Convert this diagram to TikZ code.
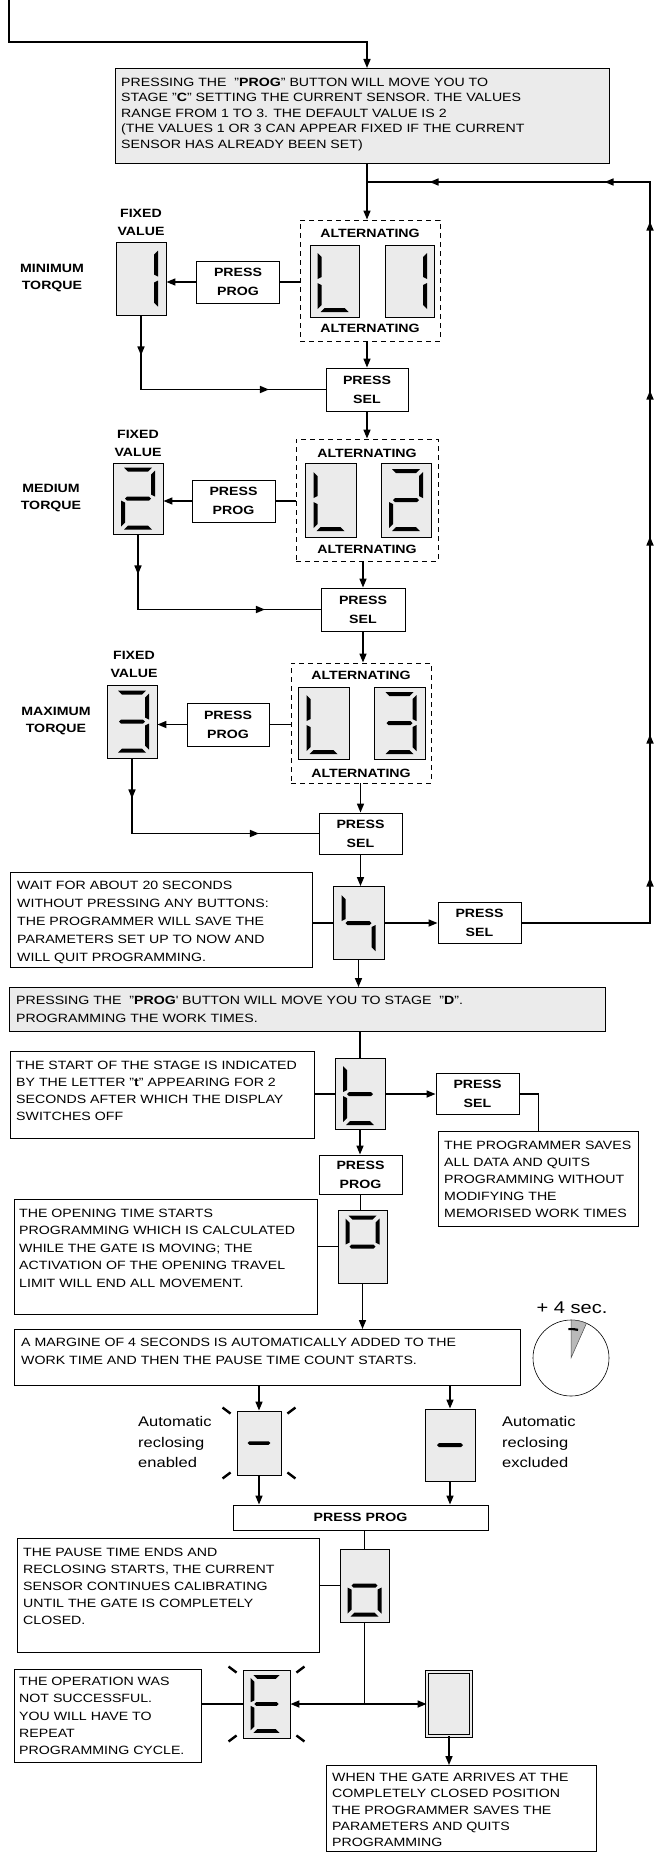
\documentclass[tikz,border=0pt]{standalone}
\usepackage{fontspec}
\setmainfont{Liberation Sans}[FakeStretch=1.18]
\usetikzlibrary{arrows.meta, decorations.markings, positioning}
\definecolor{panel}{gray}{0.92}
\tikzset{flowtip/.tip={Triangle[length=9pt, width=7pt]}}
\tikzstyle{flow} = [line width=1.6pt, -flowtip]
\tikzstyle{link} = [line width=1.6pt]
\tikzstyle{frame} = [draw, line width=0.9pt, fill=white, inner sep=0pt, anchor=north west]
\tikzstyle{greyframe} = [frame, fill=panel]
\tikzstyle{display} = [draw, line width=0.9pt, fill=panel, inner sep=0pt, minimum width=50pt, minimum height=73pt]
\tikzstyle{altbox} = [draw, line width=0.9pt, dash pattern=on 5pt off 4pt, inner sep=0pt, minimum width=140pt, minimum height=121pt]
\tikzstyle{button} = [draw, line width=0.9pt, fill=white, inner sep=0pt, align=center, minimum width=83pt, minimum height=42pt, font=\fontsize{12}{19}\selectfont\bfseries]
\tikzstyle{tag} = [align=center, inner sep=0pt, font=\fontsize{12}{18}\selectfont\bfseries]
\tikzstyle{autotext} = [anchor=west, align=left, inner sep=0pt, font=\fontsize{14}{20.5}\selectfont]
\tikzstyle{blinkmark} = [line width=2.4pt]
\tikzset{
  notetext/.style={anchor=north west, align=left, inner sep=0pt, font=\fontsize{12}{#1}\selectfont},
  notetext/.default=17,
  boxsize/.style 2 args={minimum width=#1pt, minimum height=#2pt},
  midtip/.style={postaction={decorate, decoration={markings, mark=at position #1 with {\arrow{flowtip}}}}}
}
\newcommand{\sega}{\fill (-14,-31) -- (14,-31) -- (10,-27) -- (-10,-27) -- cycle;}
\newcommand{\segb}{\fill (17,-28) -- (17,-2) -- (13,-4) -- (13,-24) -- cycle;}
\newcommand{\segc}{\fill (17,2) -- (17,28) -- (13,24) -- (13,4) -- cycle;}
\newcommand{\segd}{\fill (-14,31) -- (14,31) -- (10,27) -- (-10,27) -- cycle;}
\newcommand{\sege}{\fill (-17,2) -- (-17,28) -- (-13,24) -- (-13,4) -- cycle;}
\newcommand{\segf}{\fill (-17,-28) -- (-17,-2) -- (-13,-4) -- (-13,-24) -- cycle;}
\newcommand{\segg}{\fill (-13,0) -- (-11,-2) -- (11,-2) -- (13,0) -- (11,2) -- (-11,2) -- cycle;}
\newcommand{\segdigit}[3][1]{\begin{scope}[shift={(#2.center)}, scale=#1]\foreach \s in {#3}{\csname seg\s\endcsname}\end{scope}}
\newcommand{\blinkmarks}[1]{%
  \draw[blinkmark] ([shift={(6,3)}]#1.north east) -- ([shift={(14,-3)}]#1.north east);
  \draw[blinkmark] ([shift={(-6,3)}]#1.north west) -- ([shift={(-14,-3)}]#1.north west);
  \draw[blinkmark] ([shift={(6,-3)}]#1.south east) -- ([shift={(14,3)}]#1.south east);
  \draw[blinkmark] ([shift={(-6,-3)}]#1.south west) -- ([shift={(-14,3)}]#1.south west);}

\begin{document}
\begin{tikzpicture}[x=1pt, y=-1pt]
\fill[white] (0,0) rectangle (656,1852);
\useasboundingbox (0,0) rectangle (656,1852);

\node[greyframe, boxsize={494}{95}] (intro) at (115,68) {};
\node[notetext=15.5] (introtxt) at ([shift={(6,9.5)}]intro.north west) {PRESSING THE\ \ "\textbf{PROG}" BUTTON WILL MOVE YOU TO\\STAGE "\textbf{C}" SETTING THE CURRENT SENSOR. THE VALUES\\RANGE FROM 1 TO 3. THE DEFAULT VALUE IS 2\\(THE VALUES 1 OR 3 CAN APPEAR FIXED IF THE CURRENT\\SENSOR HAS ALREADY BEEN SET)};

\node[display] (fix1) at (141,278.5) {};
\node[tag] (fv1) at (141,222) {FIXED\\VALUE};
\node[tag, font=\fontsize{12}{17}\selectfont\bfseries] (mt1) at (52,278.5) {MINIMUM\\TORQUE};
\node[button] (pp1) at (238,282) {PRESS\\PROG};
\node[altbox] (alt1) at (370,280.5) {};
\node[tag] (at1) at (370,233) {ALTERNATING};
\node[tag] (ab1) at (370,328) {ALTERNATING};
\node[display, boxsize={49}{72}] (dl1) at (334.5,281) {};
\node[display, boxsize={49}{72}] (dr1) at (410,281) {};
\node[button, boxsize={82}{43}] (ps1) at (367,389.5) {PRESS\\SEL};

\node[display, boxsize={50}{71}] (fix2) at (138,498.5) {};
\node[tag] (fv2) at (138,443) {FIXED\\VALUE};
\node[tag, font=\fontsize{12}{17}\selectfont\bfseries] (mt2) at (51,498) {MEDIUM\\TORQUE};
\node[button] (pp2) at (233.5,501) {PRESS\\PROG};
\node[altbox, boxsize={142}{122}] (alt2) at (367,500) {};
\node[tag] (at2) at (367,453) {ALTERNATING};
\node[tag] (ab2) at (367,549) {ALTERNATING};
\node[display, boxsize={51}{74}] (dl2) at (330.5,500) {};
\node[display, boxsize={50}{74}] (dr2) at (406,500) {};
\node[button, boxsize={84}{43}] (ps2) at (363,609.5) {PRESS\\SEL};

\node[display] (fix3) at (132,721.5) {};
\node[tag] (fv3) at (134,664.5) {FIXED\\VALUE};
\node[tag, font=\fontsize{12}{17}\selectfont\bfseries] (mt3) at (56,721.5) {MAXIMUM\\TORQUE};
\node[button, boxsize={82}{43}] (pp3) at (228,724.5) {PRESS\\PROG};
\node[altbox, boxsize={140}{120}] (alt3) at (361,723) {};
\node[tag] (at3) at (361,675) {ALTERNATING};
\node[tag] (ab3) at (361,773) {ALTERNATING};
\node[display, boxsize={51}{72}] (dl3) at (323.5,723) {};
\node[display, boxsize={51}{72}] (dr3) at (399.5,723) {};
\node[button, boxsize={83}{41}] (ps3) at (360.5,833.5) {PRESS\\SEL};

\node[frame, boxsize={302}{95}] (wait) at (10,872) {};
\node[notetext=18] (waittxt) at ([shift={(7,9)}]wait.north west) {WAIT FOR ABOUT 20 SECONDS\\WITHOUT PRESSING ANY BUTTONS:\\THE PROGRAMMER WILL SAVE THE\\PARAMETERS SET UP TO NOW AND\\WILL QUIT PROGRAMMING.};
\node[display, boxsize={51}{73}] (d4) at (358.5,923) {};
\node[button, boxsize={83}{41}] (sel4) at (479.5,923) {PRESS\\SEL};

\node[greyframe, boxsize={596}{44}] (stageD) at (9,987) {};
\node[notetext=18] (stageDtxt) at ([shift={(7,9)}]stageD.north west) {PRESSING THE\ \ "\textbf{PROG}\textquotesingle{} BUTTON WILL MOVE YOU TO STAGE\ \ "\textbf{D}".\\PROGRAMMING THE WORK TIMES.};

\node[frame, boxsize={304}{87}] (start) at (10,1051) {};
\node[notetext] (starttxt) at ([shift={(6,9.5)}]start.north west) {THE START OF THE STAGE IS INDICATED\\BY THE LETTER "\textbf{t}" APPEARING FOR 2\\SECONDS AFTER WHICH THE DISPLAY\\SWITCHES OFF};
\node[display, boxsize={50}{71}] (dt) at (360,1094) {};
\node[button, boxsize={83}{41}] (selt) at (477.5,1094) {PRESS\\SEL};
\node[frame, boxsize={200}{95}] (saves) at (438,1131) {};
\node[notetext] (savestxt) at ([shift={(6,9.5)}]saves.north west) {THE PROGRAMMER SAVES\\ALL DATA AND QUITS\\PROGRAMMING WITHOUT\\MODIFYING THE\\MEMORISED WORK TIMES};

\node[button, boxsize={83}{39}] (ppt) at (360.5,1174.5) {PRESS\\PROG};
\node[display, boxsize={49}{73}] (d0) at (362.5,1246.5) {};
\node[frame, boxsize={303}{115}] (opening) at (14,1199) {};
\node[notetext=17.5] (openingtxt) at ([shift={(5,9.5)}]opening.north west) {THE OPENING TIME STARTS\\PROGRAMMING WHICH IS CALCULATED\\WHILE THE GATE IS MOVING; THE\\ACTIVATION OF THE OPENING TRAVEL\\LIMIT WILL END ALL MOVEMENT.};

\node[frame, boxsize={506}{56}] (margin) at (14,1329) {};
\node[notetext=18] (margintxt) at ([shift={(7,9)}]margin.north west) {A MARGINE OF 4 SECONDS IS AUTOMATICALLY ADDED TO THE\\WORK TIME AND THEN THE PAUSE TIME COUNT STARTS.};

\node[font=\fontsize{17}{17}\selectfont] (plus) at (572,1308) {+ 4 sec.};
\node[draw, circle, line width=0.6pt, minimum size=76pt, inner sep=0pt] (clock) at (571,1358) {};
\filldraw[fill=gray!55, draw=black!70, line width=0.5pt] (clock.center) -- ++(-90:38) arc[start angle=-90, end angle=-66, radius=38] -- cycle;
\draw[line width=2.2pt] (clock.center) ++(-95:29) arc[start angle=-95, end angle=-76, radius=29];

\node[display, boxsize={44}{64}] (den) at (259,1443) {};
\node[display, boxsize={50}{72}] (dex) at (450,1445) {};
\node[autotext] (autoen) at (138,1442) {Automatic\\reclosing\\enabled};
\node[autotext] (autoex) at (502,1442) {Automatic\\reclosing\\excluded};
\node[button, boxsize={255}{25}] (ppw) at (360.5,1517.5) {PRESS PROG};

\node[display, boxsize={49}{73}] (dol) at (364.5,1585.5) {};
\node[frame, boxsize={302}{114}] (pause) at (17,1538) {};
\node[notetext] (pausetxt) at ([shift={(6,9.5)}]pause.north west) {THE PAUSE TIME ENDS AND\\RECLOSING STARTS, THE CURRENT\\SENSOR CONTINUES CALIBRATING\\UNTIL THE GATE IS COMPLETELY\\CLOSED.};

\node[display, boxsize={47}{68}] (dE) at (266.5,1704) {};
\node[display, boxsize={44}{64}, double=panel, double distance=2.5pt] (dbl) at (449,1704) {};
\node[frame, boxsize={187}{93}] (oper) at (14,1669) {};
\node[notetext=17.3] (opertxt) at ([shift={(5,8)}]oper.north west) {THE OPERATION WAS\\NOT SUCCESSFUL.\\YOU WILL HAVE TO\\REPEAT\\PROGRAMMING CYCLE.};
\node[frame, boxsize={270}{86}] (when) at (326,1765) {};
\node[notetext=16.3] (whentxt) at ([shift={(6,8)}]when.north west) {WHEN THE GATE ARRIVES AT THE\\COMPLETELY CLOSED POSITION\\THE PROGRAMMER SAVES THE\\PARAMETERS AND QUITS\\PROGRAMMING};

\segdigit{fix1}{b,c}
\segdigit{dl1}{f,e,d}
\segdigit{dr1}{b,c}
\segdigit{fix2}{a,b,g,e,d}
\segdigit{dl2}{f,e,d}
\segdigit{dr2}{a,b,g,e,d}
\segdigit{fix3}{a,b,g,c,d}
\segdigit{dl3}{f,e,d}
\segdigit{dr3}{a,b,g,c,d}
\segdigit{d4}{f,g,c}
\segdigit{dt}{f,e,g,d}
\segdigit{d0}{a,b,f,g}
\segdigit[0.88]{den}{g}
\segdigit{dex}{g}
\segdigit{dol}{g,c,d,e}
\segdigit[0.93]{dE}{a,f,g,e,d}
\blinkmarks{den}
\blinkmarks{dE}

\coordinate (entry) at (9,0);
\coordinate (bend) at (367,42);
\coordinate (jtop) at (367,182);
\coordinate (rtop) at (650,182);
\draw[flow] (entry) |- (bend) -- (bend |- intro.north);
\draw[flow] (jtop |- intro.south) -- (jtop |- alt1.north);
\draw[link, midtip=174pt, midtip=317pt, midtip=515pt, midtip=661pt, midtip=830pt, midtip=915pt, midtip=1090pt] (sel4.east) -| (rtop) -- (jtop);

\draw[link] (pp1.east) -- (pp1.east -| alt1.west);
\draw[flow] (pp1.west) -- (pp1.west -| fix1.east);
\draw[link, midtip=40pt, midtip=202pt] (fix1.south) |- (ps1.west);
\draw[flow] (ps1.north |- alt1.south) -- (ps1.north);
\draw[flow] (ps1.south) -- (ps1.south |- alt2.north);

\draw[link] (pp2.east) -- (pp2.east -| alt2.west);
\draw[flow] (pp2.west) -- (pp2.west -| fix2.east);
\draw[link, midtip=40pt, midtip=202pt] (fix2.south) |- (ps2.west);
\draw[flow] (ps2.north |- alt2.south) -- (ps2.north);
\draw[flow] (ps2.south) -- (ps2.south |- alt3.north);

\draw[link] (pp3.east) -- (pp3.east -| alt3.west);
\draw[flow] (pp3.west) -- (pp3.west -| fix3.east);
\draw[link, midtip=40pt, midtip=202pt] (fix3.south) |- (ps3.west);
\draw[flow] (ps3.north |- alt3.south) -- (ps3.north);
\draw[flow] (ps3.south) -- (ps3.south |- d4.north);

\draw[link] (wait.east |- d4.west) -- (d4.west);
\draw[flow] (d4.east) -- (sel4.west);
\draw[flow] (d4.south) -- (d4.south |- stageD.north);
\draw[link] (dt.north |- stageD.south) -- (dt.north);
\draw[link] (start.east |- dt.west) -- (dt.west);
\draw[flow] (dt.east) -- (selt.west);
\draw[link] (selt.east) -| (saves.north);
\draw[flow] (dt.south) -- (dt.south |- ppt.north);
\draw[link] (ppt.south) -- (ppt.south |- d0.north);
\draw[link] (opening.east |- d0.west) -- (d0.west);
\draw[flow] (d0.south) -- (d0.south |- margin.north);
\draw[flow] (den.north |- margin.south) -- (den.north);
\draw[flow] (dex.north |- margin.south) -- (dex.north);
\draw[flow] (den.south) -- (den.south |- ppw.north);
\draw[flow] (dex.south) -- (dex.south |- ppw.north);
\draw[link] (dol.north |- ppw.south) -- (dol.north);
\draw[link] (pause.east |- dol.west) -- (dol.west);
\coordinate (split) at (dol.south |- dE.east);
\draw[link] (dol.south) -- (split);
\draw[flow] (split) -- (dE.east);
\draw[flow] (split) -- (dbl.west);
\draw[link] (oper.east |- dE.west) -- (dE.west);
\draw[flow] (dbl.south) -- (dbl.south |- when.north);
\end{tikzpicture}
\end{document}
